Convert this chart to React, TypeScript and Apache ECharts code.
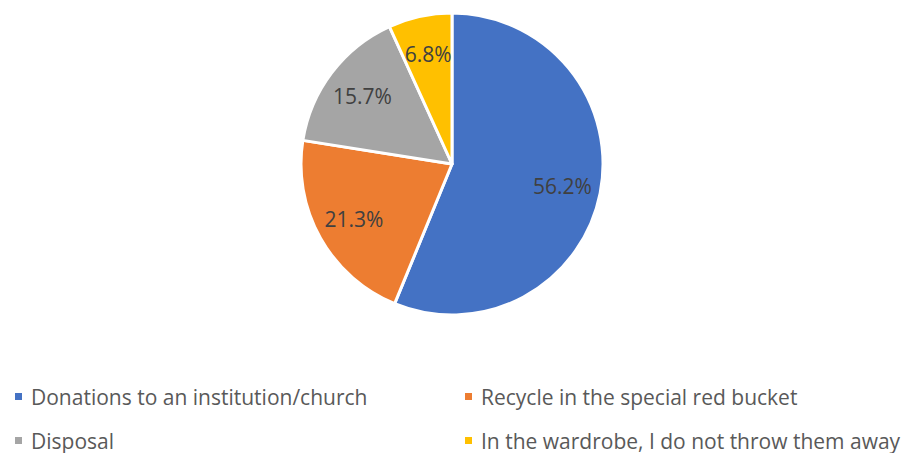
import React, { useEffect, useRef } from "react";
import * as echarts from "echarts";

const categories = [
  "Donations to an institution/church",
  "Recycle in the special red bucket",
  "Disposal",
  "In the wardrobe, I do not throw them away",
];
const values = [56.2, 21.3, 15.7, 6.8];
const colors = ["#4472C4", "#ED7D31", "#A5A5A5", "#FFC000"];
const legendLeft = [categories[0], categories[2]];
const legendRight = [categories[1], categories[3]];

export default function App() {
  const ref = useRef<HTMLDivElement>(null);
  useEffect(() => {
    if (!ref.current) return;
    const chart = echarts.init(ref.current, undefined, { renderer: "svg" });
    const data = categories.map((c, i) => ({ name: c, value: values[i], itemStyle: { color: colors[i] } }));
    const font = "'Open Sans', sans-serif";
    const legendCommon = {
      orient: "vertical" as const,
      top: 381,
      height: 70,
      padding: [5, 5, 0, 5],
      itemWidth: 9,
      itemHeight: 9,
      itemGap: 23,
      icon: "rect",
      textStyle: { color: "#595959", fontSize: 21, lineHeight: 20, fontFamily: font, padding: [0, 0, 0, 3] },
      selectedMode: false,
    };
    chart.setOption({
      animation: false,
      backgroundColor: "#fff",
      legend: [
        { ...legendCommon, left: 8, data: legendLeft },
        { ...legendCommon, left: 458, data: legendRight },
      ],
      series: [
        {
          type: "pie",
          center: [452, 164],
          radius: [0, 151],
          startAngle: 90,
          clockwise: true,
          data,
          label: { show: false },
          labelLine: { show: false },
          itemStyle: { borderColor: "#fff", borderWidth: 3 },
          emphasis: { disabled: true },
        },
        {
          type: "pie",
          center: [452, 164],
          radius: [68, 151],
          startAngle: 90,
          clockwise: true,
          silent: true,
          data: categories.map((c, i) => ({ name: c, value: values[i] })),
          itemStyle: { color: "transparent" },
          label: {
            show: true,
            position: "inside",
            formatter: (p: any) => `${p.value.toFixed(1)}%`,
            color: "#404040",
            fontSize: 21,
            fontFamily: font,
          },
          labelLine: { show: false },
          emphasis: { disabled: true },
        },
      ],
    });
    return () => chart.dispose();
  }, []);
  return <div ref={ref} style={{ position: "fixed", left: 0, top: 0, width: 907, height: 453 }} />;
}
